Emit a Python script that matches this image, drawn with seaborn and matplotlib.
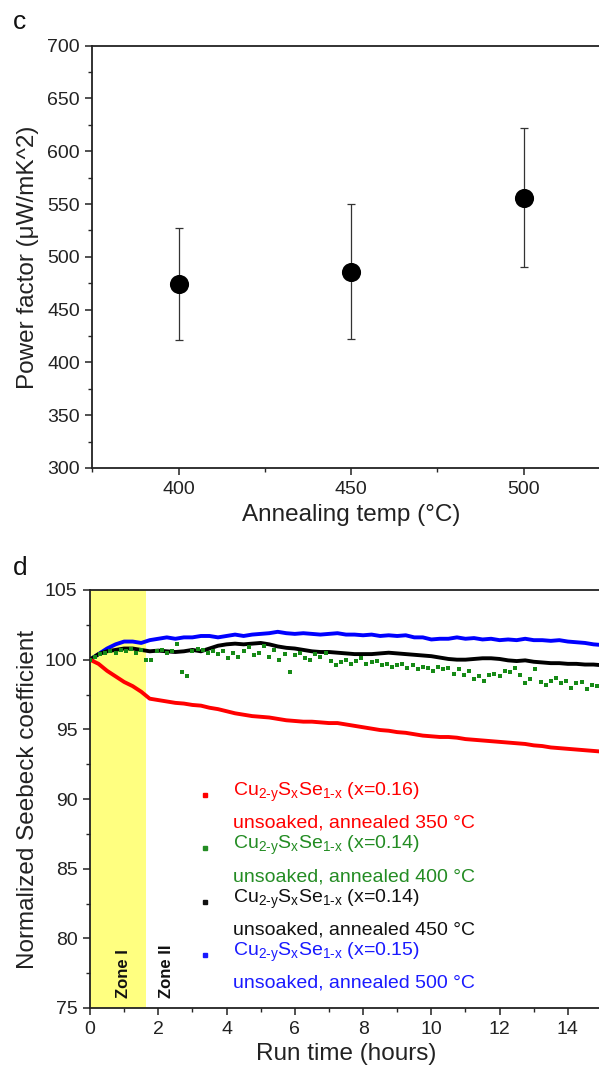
import numpy as np
import pandas as pd
import matplotlib
matplotlib.use("Agg")
import matplotlib.pyplot as plt
from matplotlib.ticker import MultipleLocator
import seaborn as sns

# ---------------- data: panel c ----------------
anneal_temp = [400, 450, 500]
power_factor = [474, 486, 556]
pf_err = [53, 64, 66]

# ---------------- data: panel d ----------------
line_time = np.round(np.arange(0, 15.001, 0.25), 2)
blue_500 = [100.0, 100.4, 100.8, 101.1, 101.3, 101.3, 101.2, 101.4, 101.5, 101.6, 101.5, 101.6,
            101.6, 101.7, 101.7, 101.6, 101.7, 101.8, 101.7, 101.8, 101.85, 101.9, 102.0, 101.9,
            101.85, 101.9, 101.85, 101.8, 101.85, 101.9, 101.8, 101.8, 101.75, 101.8, 101.7, 101.75,
            101.7, 101.75, 101.6, 101.6, 101.45, 101.5, 101.5, 101.6, 101.5, 101.55, 101.45, 101.5,
            101.4, 101.45, 101.4, 101.5, 101.4, 101.4, 101.35, 101.4, 101.3, 101.25, 101.2, 101.1, 101.05]
black_450 = [100.0, 100.4, 100.6, 100.7, 100.8, 100.8, 100.7, 100.6, 100.65, 100.6, 100.55, 100.6,
             100.7, 100.6, 100.8, 101.0, 101.1, 101.15, 101.1, 101.15, 101.2, 101.1, 100.95, 100.85,
             100.8, 100.7, 100.6, 100.55, 100.55, 100.5, 100.45, 100.4, 100.4, 100.4, 100.45, 100.5,
             100.45, 100.4, 100.35, 100.3, 100.25, 100.15, 100.05, 100.0, 100.0, 100.05, 100.1, 100.1,
             100.05, 99.95, 99.9, 99.95, 99.85, 99.8, 99.75, 99.75, 99.7, 99.7, 99.65, 99.65, 99.6]
red_350 = [100.0, 99.7, 99.2, 98.8, 98.4, 98.1, 97.7, 97.2, 97.1, 97.0, 96.9, 96.85,
           96.75, 96.7, 96.55, 96.45, 96.3, 96.15, 96.05, 95.95, 95.9, 95.85, 95.75, 95.65,
           95.6, 95.55, 95.55, 95.5, 95.45, 95.45, 95.35, 95.25, 95.15, 95.05, 94.95, 94.9,
           94.8, 94.75, 94.65, 94.55, 94.5, 94.45, 94.45, 94.4, 94.3, 94.25, 94.2, 94.15,
           94.1, 94.05, 94.0, 93.95, 93.85, 93.8, 93.7, 93.65, 93.6, 93.55, 93.5, 93.45, 93.4]

green_time = np.round(np.arange(0, 15.001, 0.15), 2)
green_400 = [100.0, 100.2, 100.4, 100.5, 100.6, 100.5, 100.7, 100.6, 100.8, 100.5,
             100.7, 100.0, 100.0, 100.6, 100.7, 100.5, 100.6, 101.1, 99.1, 98.8,
             100.6, 100.8, 100.7, 100.5, 100.6, 100.4, 100.6, 100.1, 100.5, 100.2,
             100.6, 100.9, 100.3, 100.5, 101.0, 100.2, 100.7, 100.0, 100.4, 99.1,
             100.3, 100.5, 100.1, 100.0, 100.4, 100.2, 100.5, 99.9, 99.6, 99.8,
             100.0, 99.7, 99.9, 100.1, 99.7, 99.8, 99.9, 99.6, 99.7, 99.5,
             99.6, 99.7, 99.4, 99.6, 99.3, 99.5, 99.4, 99.2, 99.5, 99.3,
             99.4, 99.0, 99.3, 98.9, 99.2, 98.6, 98.8, 98.5, 98.9, 99.0,
             98.8, 99.2, 99.1, 99.4, 98.9, 98.3, 98.6, 99.3, 98.4, 98.2,
             98.5, 98.7, 98.3, 98.5, 98.0, 98.3, 98.4, 97.9, 98.2, 98.1, 98.0]

zone_end = 1.65

formula = r"Cu$_{\mathregular{2‐y}}$S$_{\mathregular{x}}$Se$_{\mathregular{1‐x}}$"
legend_rows = [
    ("#ff0000", formula + " (x=0.16)", "unsoaked, annealed 350 °C"),
    ("#238c23", formula + " (x=0.14)", "unsoaked, annealed 400 °C"),
    ("#111111", formula + " (x=0.14)", "unsoaked, annealed 450 °C"),
    ("#1a1aff", formula + " (x=0.15)", "unsoaked, annealed 500 °C"),
]

# ---------------- style ----------------
sns.set_style("ticks")
plt.rcParams["font.family"] = ["Liberation Sans", "DejaVu Sans"]
plt.rcParams["mathtext.fontset"] = "custom"
plt.rcParams["mathtext.rm"] = "Liberation Sans"
plt.rcParams["mathtext.default"] = "regular"
plt.rcParams["axes.edgecolor"] = "#222222"
plt.rcParams["axes.linewidth"] = 1.3

W, H = 599, 1068
fig = plt.figure(figsize=(W / 100, H / 100), dpi=100)

def px_axes(l, t, r, b):
    return fig.add_axes([l / W, 1 - b / H, (r - l) / W, (b - t) / H])

# ---------------- panel c ----------------
ax1 = px_axes(92.3, 45.7, 610, 468)
df_c = pd.DataFrame({"temp": anneal_temp, "pf": power_factor})
ax1.errorbar(anneal_temp, power_factor, yerr=pf_err, fmt="none", ecolor="#333333",
             elinewidth=0.9, capsize=3, capthick=0.9, zorder=2)
sns.scatterplot(data=df_c, x="temp", y="pf", ax=ax1, s=190, color="black",
                edgecolor="black", linewidth=0, zorder=3, legend=False)
ax1.set_xlim(375, 525)
ax1.set_ylim(300, 700)
ax1.yaxis.set_major_locator(MultipleLocator(50))
ax1.yaxis.set_minor_locator(MultipleLocator(25))
ax1.xaxis.set_major_locator(MultipleLocator(50))
ax1.xaxis.set_minor_locator(MultipleLocator(25))
ax1.set_xlabel("Annealing temp (°C)", fontsize=17.5, color="#222222", labelpad=5)
ax1.set_ylabel("Power factor (μW/mK^2)", fontsize=17.5, color="#222222", labelpad=6)

# ---------------- panel d ----------------
ax2 = px_axes(90, 590, 602, 1008)
ax2.axvspan(0, zone_end, color="#ffff80", zorder=0, lw=0)
df_d = pd.DataFrame({"t": line_time, "red": red_350, "black": black_450, "blue": blue_500})
sns.lineplot(data=df_d, x="t", y="blue", ax=ax2, color="#0000ff", lw=2.8, zorder=3)
sns.lineplot(data=df_d, x="t", y="black", ax=ax2, color="#000000", lw=2.8, zorder=3)
df_g = pd.DataFrame({"t": green_time, "g": green_400})
sns.scatterplot(data=df_g, x="t", y="g", ax=ax2, marker="s", s=11, color="#168a16",
                linewidth=0, zorder=4, legend=False)
sns.lineplot(data=df_d, x="t", y="red", ax=ax2, color="#ff0000", lw=2.8, zorder=3)
ax2.set_xlim(0, 15)
ax2.set_ylim(75, 105)
ax2.yaxis.set_major_locator(MultipleLocator(5))
ax2.yaxis.set_minor_locator(MultipleLocator(2.5))
ax2.xaxis.set_major_locator(MultipleLocator(2))
ax2.xaxis.set_minor_locator(MultipleLocator(1))
ax2.set_xlabel("Run time (hours)", fontsize=17.5, color="#222222", labelpad=4)
ax2.set_ylabel("Normalized Seebeck coefficient", fontsize=17.5, color="#222222", labelpad=4)

ax2.text(0.97, 75.7, "Zone I", rotation=90, ha="center", va="bottom",
         fontsize=12, fontweight="bold", color="#111111")
ax2.text(2.25, 75.7, "Zone II", rotation=90, ha="center", va="bottom",
         fontsize=12, fontweight="bold", color="#111111")

row_y = [(0.5096, 0.4426), (0.3828, 0.3134), (0.2536, 0.1866), (0.1268, 0.0598)]
for (col, l1, l2), (y1, y2) in zip(legend_rows, row_y):
    ax2.plot([0.2246], [y1], marker="s", ms=2.5, color=col, transform=ax2.transAxes, ls="none")
    ax2.text(0.2793, y1 + 0.006, l1, transform=ax2.transAxes, color=col, fontsize=14,
             va="center", ha="left")
    ax2.text(0.2793, y2, l2, transform=ax2.transAxes, color=col, fontsize=14,
             va="center", ha="left")

for ax in (ax1, ax2):
    ax.tick_params(axis="both", which="major", direction="out", length=5, width=1.1,
                   labelsize=14, colors="#222222", pad=4)
    ax.tick_params(axis="both", which="minor", direction="out", length=3, width=1.0)
    for s in ax.spines.values():
        s.set_visible(True)
    ax.tick_params(top=False, right=False)

fig.text(20 / W, 1 - 22 / H, "c", fontsize=19, ha="center", va="center", color="#111111")
fig.text(20 / W, 1 - 568 / H, "d", fontsize=19, ha="center", va="center", color="#111111")

fig.savefig("out.png", dpi=100, facecolor="white")
